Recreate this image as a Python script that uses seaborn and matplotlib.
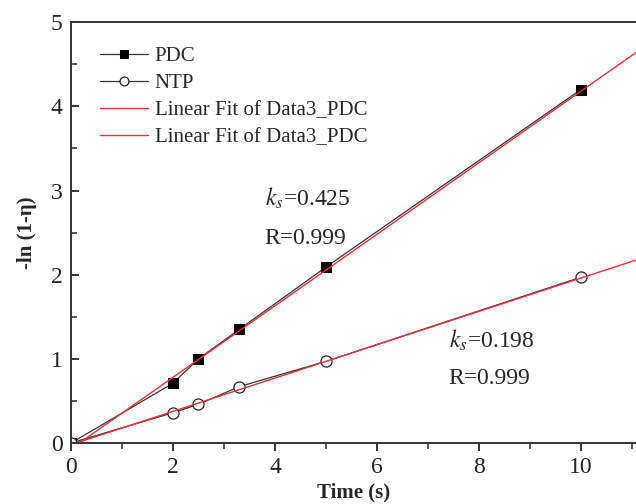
import matplotlib
matplotlib.use("Agg")
import matplotlib.pyplot as plt
import seaborn as sns
import numpy as np
import pandas as pd
from matplotlib.ticker import MultipleLocator

# ---- data ----
time_s = [0, 2, 2.5, 3.3, 5, 10]
pdc = [0, 0.71, 1.00, 1.35, 2.09, 4.20]
ntp = [0, 0.36, 0.46, 0.67, 0.97, 1.97]
fit_slope = [0.425, 0.198]
fit_intercept = [-0.07, -0.02]
fit_x = [0, 11.08]
series_labels = ["PDC", "NTP", "Linear Fit of Data3_PDC", "Linear Fit of Data3_PDC"]
ks_text = ["0.425", "0.198"]
r_text = ["0.999", "0.999"]

sns.set_theme(style="ticks")
plt.rcParams["font.family"] = ["Liberation Serif", "DejaVu Serif"]
plt.rcParams["mathtext.fontset"] = "stix"

fig = plt.figure(figsize=(6.36, 5.04), dpi=100)
ax = fig.add_axes([0.1116, 0.121, 0.8884, 0.835])

df = pd.DataFrame({"t": time_s, "PDC": pdc, "NTP": ntp})
sns.lineplot(data=df, x="t", y="PDC", ax=ax, color="#333333", lw=0.9,
             marker="s", markersize=6.5, markerfacecolor="black",
             markeredgecolor="black", label=series_labels[0])
sns.lineplot(data=df, x="t", y="NTP", ax=ax, color="#333333", lw=0.9,
             marker="o", markersize=8, markerfacecolor="white",
             markeredgecolor="#222222", markeredgewidth=0.9,
             label=series_labels[1])
fx = np.array(fit_x)
for i in range(2):
    sns.lineplot(x=fx, y=fit_slope[i] * fx + fit_intercept[i], ax=ax,
                 color="#e8303a", lw=1.0, label=series_labels[2 + i])

ax.set_xlim(0, 11.08)
ax.set_ylim(0, 5)
ax.xaxis.set_major_locator(MultipleLocator(2))
ax.xaxis.set_minor_locator(MultipleLocator(1))
ax.yaxis.set_major_locator(MultipleLocator(1))
ax.yaxis.set_minor_locator(MultipleLocator(0.5))
ax.tick_params(axis="x", which="major", direction="out", length=6, width=1.3,
               labelsize=17, colors="#222222", pad=4)
ax.tick_params(axis="x", which="minor", direction="out", length=4, width=1.1)
ax.tick_params(axis="y", which="major", direction="in", length=6, width=1.3,
               labelsize=17, colors="#222222", pad=6)
ax.tick_params(axis="y", which="minor", direction="in", length=4, width=1.1)
for s in ["left", "bottom", "top"]:
    ax.spines[s].set_linewidth(1.4)
    ax.spines[s].set_color("#333333")
ax.spines["right"].set_visible(False)

ax.set_xlabel("Time (s)", fontsize=15, fontweight="bold", labelpad=3)
ax.set_ylabel("-ln (1-η)", fontsize=15, fontweight="bold", labelpad=10)

ax.text(3.8, 2.91, r"$k_s$=" + ks_text[0], fontsize=17, va="center", ha="left")
ax.text(3.8, 2.43, "R=" + r_text[0], fontsize=17, va="center", ha="left")
ax.text(7.41, 1.22, r"$k_s$=" + ks_text[1], fontsize=17, va="center", ha="left")
ax.text(7.41, 0.77, "R=" + r_text[1], fontsize=17, va="center", ha="left")

ax.legend(loc="upper left", bbox_to_anchor=(0.03, 0.972), frameon=False,
          fontsize=15, handlelength=2.3, handletextpad=0.3, markerscale=0.8,
          labelspacing=0.36, borderaxespad=0.2)

fig.savefig("out.png", dpi=100)
